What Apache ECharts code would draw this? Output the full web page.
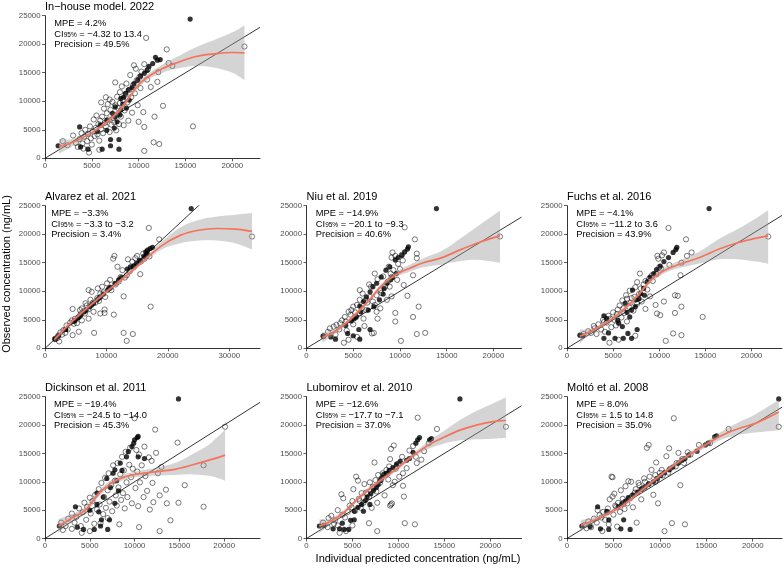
<!DOCTYPE html>
<html><head><meta charset="utf-8">
<script src="https://cdn.jsdelivr.net/npm/echarts@6/dist/echarts.min.js"></script>
<style>html,body{margin:0;padding:0;background:#fff}#c{width:784px;height:570px}</style>
</head><body><div id="c"></div><script>
// ---------------- DATA ----------------
const panelTitles = ['In\u2212house model. 2022','Alvarez et al. 2021','Niu et al. 2019','Fuchs et al. 2016','Dickinson et al. 2011','Lubomirov et al. 2010','Molt\u00f3 et al. 2008'];
const mpeText = ['4.2%','\u22123.3%','\u221214.9%','\u22124.1%','\u221219.4%','\u221212.6%','8.0%'];
const ciText = ['\u22124.32 to 13.4','\u22123.3 to \u22123.2','\u221220.1 to \u22129.3','\u221211.2 to 3.6','\u221224.5 to \u221214.0','\u221217.7 to \u22127.1','1.5 to 14.8'];
const precisionText = ['49.5%','3.4%','40.6%','43.9%','45.3%','37.0%','35.0%'];
const xMaxes = [22960, 35000, 23000, 23300, 24000, 23400, 23150];
const xTickLabels = [[0,5000,10000,15000,20000],[0,10000,20000,30000],[0,5000,10000,15000,20000],[0,5000,10000,15000,20000],[0,5000,10000,15000,20000],[0,5000,10000,15000,20000],[0,5000,10000,15000,20000]];
const yTickLabels = [0,5000,10000,15000,20000,25000];
const xTitle = 'Individual predicted concentration (ng/mL)';
const yTitle = 'Observed concentration (ng/mL)';

const open1 = [[1900,3000],[2400,2300],[3000,4000],[3300,2700],[3500,2000],[3700,3400],[3900,4400],[4000,2600],[4100,1700],[4200,3800],[4300,5000],[4500,3000],[4600,4300],[4700,1000],[4800,5600],[4900,3500],[5000,2400],[5100,4700],[5200,6800],[5300,3900],[5400,5300],[5500,7500],[5600,4200],[5700,6000],[5800,1500],[5800,3100],[5900,6600],[6000,9800],[6000,5100],[6100,7300],[6200,4400],[6300,8700],[6400,6200],[6500,10700],[6500,5600],[6600,7900],[6700,9500],[6800,6800],[6900,4600],[6900,10300],[7000,8500],[7100,5900],[7200,9900],[7300,7100],[7400,6300],[7500,13300],[7500,9300],[7600,4900],[7700,7700],[7700,10800],[7800,8800],[7900,6000],[8000,11600],[8000,9700],[8100,7300],[8200,12600],[8300,10200],[8400,5800],[8500,8400],[8600,11200],[8700,13100],[8800,9800],[8900,6600],[9000,12000],[9100,14600],[9200,10700],[9300,8000],[9400,12800],[9500,16300],[9600,11400],[9700,15700],[9800,13700],[9900,9300],[10000,6400],[10100,14300],[10200,12300],[10300,15200],[10500,8100],[10600,5500],[10600,16500],[10800,21100],[10900,13800],[11000,15600],[11300,12500],[10600,1300],[11600,2800],[11700,7300],[12000,13400],[12100,15100],[12200,2500],[12600,9200],[13000,19100],[13200,16700],[13600,16200],[15800,5600],[21300,19600]];
const filled1 = [[1400,2200],[3700,5500],[3800,2000],[4600,1600],[6100,1600],[7000,3300],[7000,2200],[7900,1600],[7900,3300],[5600,4700],[5900,5800],[6600,4900],[6600,6700],[7200,7900],[7400,5300],[7500,7300],[7700,6400],[7500,9000],[8000,7600],[8100,8500],[8300,9500],[8100,10500],[8400,10700],[8600,11400],[8700,8800],[8900,12000],[9000,10200],[9300,12400],[9500,13100],[9900,13700],[10200,14400],[10600,14900],[10900,15400],[11100,16100],[11500,16600],[11800,17700],[12000,17200],[12300,17300],[15500,24400]];
const fitX1 = [1500,2500,3500,5000,6500,8000,9000,10000,11000,12500,14000,16000,18000,20000,21300];
const fitY1 = [2100,2500,3200,4500,6200,8500,10700,12900,14300,15700,16700,17800,18300,18550,18500];
const fitLo1 = [800,1700,2700,4100,5800,8000,10200,12400,13800,15000,15700,16200,15900,15000,13700];
const fitHi1 = [3400,3300,3700,4900,6600,9000,11200,13400,14800,16400,17700,19400,20700,22100,23300];

const open2 = [[2300,1200],[2500,2800],[3000,3200],[3300,2700],[3500,4000],[4100,4500],[4400,4900],[4500,2300],[4500,6900],[4900,5200],[5200,4400],[5500,2900],[5500,5500],[5700,6700],[6000,7000],[6000,4900],[6500,6100],[6600,7900],[7000,6800],[7100,5200],[7100,10200],[7400,8500],[7600,9900],[7900,6400],[8000,2700],[8200,8000],[8500,8800],[8600,10500],[9000,9600],[9000,6100],[9300,10800],[9700,6800],[9700,6200],[9800,9000],[10100,11400],[10600,12000],[10800,10200],[11200,5900],[11100,15700],[11300,16200],[11800,14300],[12300,12500],[12600,13700],[12800,9100],[12800,2700],[13300,1300],[13300,12800],[13500,15600],[14200,15200],[14300,2500],[14700,15800],[15000,16200],[15500,13000],[16000,16600],[16500,16300],[16900,21100],[17200,7300],[18600,19100],[33700,19600],[3700,3300],[5800,6000],[6300,6500],[8800,8300],[10400,10500],[12000,11700],[13800,13500],[15600,15200],[2000,1800],[2800,2400],[4700,4300],[6800,7500],[7800,8000],[9500,9800],[11500,11200],[13000,12400],[14500,14300],[16200,15700],[17000,16100]];
const filled2 = [[2200,2200],[5500,5500],[2000,2050],[1700,1600],[1600,1700],[3300,3300],[2200,2300],[1650,1600],[3400,3300],[4700,4700],[5800,5800],[4900,4900],[6700,6700],[7900,7900],[5300,5300],[7300,7300],[6400,6400],[9000,9000],[7600,7600],[8500,8500],[9500,9500],[10500,10500],[10700,10700],[11400,11400],[8800,8800],[12000,12000],[10200,10200],[12400,12400],[13400,13900],[13900,14300],[14400,14400],[14900,14900],[15400,15400],[16100,16100],[16600,16600],[16400,16900],[16700,17200],[17100,17500],[17500,17700],[23800,24500]];
const fitX2 = [1500,4000,7000,10000,13000,16000,19000,22000,25000,28000,31000,33700];
const fitY2 = [1500,4300,7200,9900,12500,15300,18000,19800,20700,21000,20900,20500];
const fitLo2 = [800,3900,6800,9500,12100,14900,17300,18400,18900,18900,18400,17300];
const fitHi2 = [2200,4700,7600,10300,12900,15700,18700,21200,22500,23100,23400,23700];

const open3 = [[1800,2100],[2300,2900],[2500,3500],[2900,3800],[3100,2400],[3200,4100],[3600,4400],[3800,4900],[4000,980],[4100,5500],[4300,3100],[4500,1500],[4500,6400],[4800,6700],[5000,7300],[5000,4200],[5300,5500],[5400,7600],[5700,6100],[5700,8500],[5700,10200],[6000,9600],[6100,5200],[6300,8400],[6400,6700],[6800,9000],[6900,10800],[7000,2600],[7200,2700],[7300,7600],[7300,13100],[7500,6400],[7500,9300],[7600,5200],[7600,12100],[7900,10200],[7900,7000],[8400,10800],[8600,8500],[8700,11700],[8900,10800],[9000,13100],[9100,9100],[9100,12500],[9100,15900],[9200,16800],[9300,13700],[9500,16200],[9500,6200],[9500,4700],[9800,14800],[10100,1300],[10200,16400],[10300,15400],[10500,21200],[10800,9200],[11400,12800],[11400,5500],[11600,19100],[11800,16600],[11800,15800],[11800,2500],[12000,7300],[12700,2700],[20700,19600],[3500,3300],[4200,4700],[4700,5900],[5200,6300],[5900,7000],[6500,8000],[6700,11200],[7100,8200],[8000,9700],[8200,12600],[8800,14300],[9700,12000],[10000,13900],[10400,11100],[6200,3900],[5400,2000]];
const filled3 = [[1800,2200],[3100,1600],[4400,2600],[5700,1600],[5600,3300],[5000,2200],[4800,4800],[5300,5500],[5800,6400],[5700,7400],[6100,8200],[6400,9000],[6800,9900],[7100,10800],[7500,11400],[7200,7300],[7800,8500],[8000,12500],[8200,9500],[8300,10500],[8500,13700],[8600,11400],[8900,14300],[9000,12000],[9200,12400],[9500,15500],[9600,13100],[9800,15900],[10200,16300],[10500,16900],[10800,17400],[10900,17800],[6600,6700],[5100,5200],[13900,24500],[2600,2000],[6800,3300],[4200,4000]];
const fitX3 = [1700,3000,4500,6000,7000,8000,9000,10000,11000,12500,14500,16500,18500,20700];
const fitY3 = [1900,2900,4800,7200,9000,10900,12300,13300,14000,15000,15900,17300,18600,19700];
const fitLo3 = [1000,2400,4400,6800,8600,10500,11900,12800,13400,14200,14700,15300,15500,15000];
const fitHi3 = [2800,3400,5200,7600,9400,11300,12700,13800,14600,15800,17100,19300,21600,24100];

const open4 = [[1800,2500],[2300,3000],[2600,2700],[2900,3900],[3200,2500],[3400,4200],[3700,3300],[3900,5000],[4100,2900],[4300,4500],[4600,980],[4500,5700],[4800,3700],[5000,6300],[5100,5000],[5300,4000],[5600,1500],[5500,6800],[5700,7500],[5900,5400],[6000,8400],[6200,6200],[6400,9300],[6500,4700],[6700,7300],[6800,10100],[7000,8800],[7200,6600],[7400,2200],[7400,10700],[7600,7800],[7900,13100],[7800,9500],[8100,8200],[8300,11200],[8500,6900],[8700,10300],[8900,12200],[9000,9100],[9300,11800],[9600,7600],[9700,13000],[9750,6100],[9800,16200],[9900,15700],[10100,5800],[10200,14000],[10300,16300],[10500,8200],[10500,16800],[10700,1300],[11000,21100],[11100,14600],[11500,2600],[11700,9300],[11700,6200],[12000,9200],[12300,12800],[12400,2300],[12400,7300],[12400,15000],[12900,19100],[13000,16200],[13500,16800],[14700,5500],[21800,19600],[3000,3500],[4000,4600],[4700,5200],[5400,6000],[6100,7000],[6900,8000],[7300,9000],[8000,10500],[8500,11800],[9200,12800],[10000,14200],[6500,8700],[7600,11600]];
const filled4 = [[1400,2300],[1700,2200],[4000,1750],[5200,1750],[6100,1750],[7000,1750],[4500,2700],[4000,5700],[4300,5200],[5600,4400],[6000,3800],[6300,7900],[7000,6700],[6800,5500],[7400,7300],[7800,8700],[8000,9600],[8300,10500],[8700,11700],[9000,12500],[9400,13100],[9700,13800],[10100,14400],[10500,15200],[11000,15900],[11500,16800],[11800,17300],[11900,17700],[7100,10200],[7500,8500],[6500,6300],[8400,9300],[15400,24500],[6600,2600],[7600,3300],[5500,4900]];
const fitX4 = [1400,2500,4000,5500,7000,8000,9000,10000,11000,12500,14500,16500,18500,20500,21800];
const fitY4 = [2100,2900,4200,5900,8100,9900,11800,13100,14000,14900,16000,17400,18500,19300,19700];
const fitLo4 = [900,2400,3800,5500,7700,9500,11400,12600,13500,14200,14900,15600,15600,15200,14800];
const fitHi4 = [3300,3400,4600,6300,8500,10300,12200,13600,14500,15600,17100,19200,20900,22800,24200];

const open5 = [[1800,2800],[2300,2200],[2600,3500],[3000,4400],[3300,2800],[3500,3800],[3800,5300],[4000,2200],[4200,4600],[4400,6300],[4600,3300],[4700,5600],[5000,7200],[5100,4400],[5300,6600],[5500,2600],[5600,7700],[5800,5100],[6000,8700],[6100,6000],[6300,9800],[6500,4300],[6600,7300],[6700,10700],[6800,5400],[7000,8500],[7100,11500],[7200,6500],[7400,9400],[7500,4800],[7600,12900],[7800,10200],[7900,7600],[8000,5800],[8100,13300],[8200,9000],[8400,11300],[8500,6800],[8600,14400],[8700,8000],[8800,12000],[8900,5300],[9000,15300],[9100,9900],[9200,7300],[9400,13000],[9500,16000],[9600,10800],[9700,6200],[9800,12300],[10000,21200],[10100,8900],[10200,15600],[10300,11800],[10400,5700],[10500,14800],[10600,9900],[10800,12900],[11000,7300],[11100,16200],[11200,11000],[11400,8400],[11600,14300],[11700,5100],[11900,13700],[12000,9800],[12100,6400],[12300,19200],[12400,15100],[12600,11500],[12800,7600],[13000,12600],[13500,8600],[13600,6200],[14000,3200],[14800,16900],[14900,6300],[15600,9400],[17700,12900],[17700,5600],[20100,19700],[2000,1500],[3000,1700],[4100,1000],[5000,1300],[6200,2700],[7000,3600],[8300,2500],[10500,2000],[12800,1300]];
const filled5 = [[1600,2200],[3400,5600],[3600,2000],[4300,1600],[5500,1600],[6300,3300],[6200,2200],[7000,1600],[7200,3300],[5800,6000],[5800,8000],[6900,10600],[7600,11500],[7800,12100],[8400,13300],[9100,14400],[9300,15300],[9700,16200],[9900,16800],[10000,17400],[10300,17800],[10400,18000],[10400,14400],[11100,14100],[8200,8400],[7800,6200],[6500,7300],[7300,9000],[8000,10200],[8600,12000],[14900,24600],[6000,4700],[5000,5000]];
const fitX5 = [1500,3000,4500,6000,7500,9000,10500,12500,14500,16500,18500,20100];
const fitY5 = [2200,3600,5000,7900,9900,10900,11400,11800,12200,13000,13900,14700];
const fitLo5 = [1000,2900,4400,7400,9400,10400,10900,11100,11200,11300,11000,10200];
const fitHi5 = [3400,4300,5600,8400,10400,11400,11900,12500,13300,14900,16800,19200];

const open6 = [[1800,2800],[2400,3600],[2700,4000],[3000,2600],[3400,2300],[3400,5000],[3600,1000],[3800,7800],[4000,7100],[4200,3700],[4300,1300],[4500,4700],[4700,5800],[5000,2300],[5000,6600],[5100,8700],[5300,4900],[5400,10900],[5600,10200],[5700,7000],[5900,5400],[6000,8000],[6200,6300],[6300,9600],[6500,8100],[6800,7300],[6800,2700],[6900,9900],[7100,5400],[7200,9100],[7400,13400],[7500,10300],[7600,8300],[7700,6300],[7700,1300],[7800,11200],[8000,9800],[8300,11500],[8500,7600],[8700,12100],[8900,10400],[9000,12700],[9100,5800],[9100,14000],[9200,6000],[9200,15800],[9300,6200],[9400,9400],[9500,16400],[9600,10000],[9800,12700],[10000,13200],[10100,10900],[10400,14400],[10500,11500],[10500,9300],[10600,7400],[10700,2700],[10900,12400],[11200,15500],[11600,16300],[11800,2500],[11900,14400],[12000,13300],[12100,21300],[12500,13900],[12800,15400],[13300,16800],[14200,19300],[21700,19700],[2300,2000],[3100,3200],[3900,4200],[4900,5500],[5800,6600],[6600,7800],[7300,8900],[8100,10300],[8800,11400],[9700,12300]];
const filled6 = [[1400,2200],[1900,2300],[2900,1700],[3600,1700],[4100,1600],[4600,1600],[4800,3200],[5200,3300],[3900,2700],[5600,5500],[5200,4800],[6000,6000],[6400,6700],[6600,7300],[7000,7900],[7300,8500],[7600,9000],[7800,9500],[8000,10200],[8200,10700],[8400,11300],[8700,11500],[9000,12000],[9400,12500],[9800,13100],[10200,13600],[10900,13800],[11200,14100],[11600,15200],[11900,16800],[12100,17400],[12300,17800],[13400,17400],[13600,17600],[16700,24600],[6200,4800],[6900,6000]];
const fitX6 = [1400,2500,4000,5800,7600,9400,11200,13000,14900,16700,18500,20300,21700];
const fitY6 = [2200,2900,4500,7300,9700,11800,14100,16200,17800,19100,20000,20600,20800];
const fitLo6 = [1000,2300,4100,6900,9300,11400,13700,15600,16700,17300,17500,17600,17700];
const fitHi6 = [3400,3500,4900,7700,10100,12200,14500,16800,18900,20900,22500,23800,24900];

const open7 = [[1900,2400],[2300,3000],[2600,2000],[2900,3500],[3200,2800],[3300,5000],[3500,4100],[3800,1300],[3900,4700],[4100,3300],[4400,5300],[4500,2500],[4600,6900],[4800,10900],[4900,10800],[4900,7400],[5000,4200],[5100,7900],[5200,5800],[5400,2100],[5500,6300],[5700,4700],[5800,8500],[6000,7000],[6200,5200],[6300,9200],[6500,6200],[6600,10100],[6900,10000],[7000,7500],[7100,5500],[7400,8700],[7500,2800],[7700,9800],[7800,9400],[8000,6900],[8300,10600],[8400,10000],[8600,16000],[8800,16500],[8900,10900],[9100,12100],[9300,7700],[9500,10000],[9500,11200],[9600,13400],[9800,6200],[10000,11600],[10200,12100],[10500,1300],[10700,14500],[10900,11600],[11000,15900],[11300,2700],[11500,21200],[11800,13300],[12000,15100],[12200,9400],[12400,14000],[12700,2500],[13000,15200],[13300,14800],[14200,16500],[15400,16800],[17400,19300],[22800,19700],[2100,1800],[3700,3700],[4300,4600],[5300,5600],[6100,6300],[6800,7100],[7300,8100],[8100,8800],[8800,9600],[9700,10400],[10300,11100],[11100,12300],[11700,12700],[12600,13300]];
const filled7 = [[1600,2200],[2500,2100],[3600,1700],[4500,1600],[5800,1700],[6800,1600],[4500,3300],[6100,3300],[3300,5600],[4300,4800],[5500,5600],[5900,6100],[6300,6600],[6600,7200],[7100,7700],[7600,8200],[8000,8700],[8400,9100],[8800,9600],[9300,10000],[9700,10600],[10100,11100],[10500,11600],[11000,12100],[11400,12600],[12000,13300],[12400,13800],[12700,14100],[13100,14700],[14000,15400],[14900,16500],[15200,16800],[15900,17900],[16100,18100],[22800,24600]];
const fitX7 = [1500,3000,4500,6000,7600,9400,11300,13100,14900,16700,18500,20300,22800];
const fitY7 = [2300,3300,4500,5800,7900,10300,12700,14700,16500,18200,19400,20300,22300];
const fitLo7 = [1300,2800,4100,5400,7500,9900,12300,14300,16000,17500,18300,18700,19100];
const fitHi7 = [3300,3800,4900,6200,8300,10700,13100,15100,17000,18900,20500,21900,24400];

// ---------------- LAYOUT ----------------
const FONT = '"Liberation Sans", Arial, Helvetica, sans-serif';
const gridPos = [[45,15.7],[45,205.7],[306.5,205.7],[567,205.7],[45,396.7],[306.5,396.7],[567,396.7]];
const gridH = [142.6,142.6,142.6,142.6,141.8,141.8,141.8];
const gridW = 215;

const opens = [open1,open2,open3,open4,open5,open6,open7];
const filleds = [filled1,filled2,filled3,filled4,filled5,filled6,filled7];
const fitXs = [fitX1,fitX2,fitX3,fitX4,fitX5,fitX6,fitX7];
const fitYs = [fitY1,fitY2,fitY3,fitY4,fitY5,fitY6,fitY7];
const fitLos = [fitLo1,fitLo2,fitLo3,fitLo4,fitLo5,fitLo6,fitLo7];
const fitHis = [fitHi1,fitHi2,fitHi3,fitHi4,fitHi5,fitHi6,fitHi7];

// smooth SVG path through pixel points (Catmull-Rom -> cubic Bezier), drawing only
function smoothSeg(pts, startCmd) {
  let d = startCmd + pts[0][0] + ' ' + pts[0][1];
  for (let k = 0; k < pts.length - 1; k++) {
    const p0 = pts[Math.max(k - 1, 0)], p1 = pts[k], p2 = pts[k + 1], p3 = pts[Math.min(k + 2, pts.length - 1)];
    const c1x = p1[0] + (p2[0] - p0[0]) / 6, c1y = p1[1] + (p2[1] - p0[1]) / 6;
    const c2x = p2[0] - (p3[0] - p1[0]) / 6, c2y = p2[1] - (p3[1] - p1[1]) / 6;
    d += ' C' + c1x + ' ' + c1y + ' ' + c2x + ' ' + c2y + ' ' + p2[0] + ' ' + p2[1];
  }
  return d;
}

const plain = v => String(v);
const grid = [], xAxis = [], yAxis = [], series = [], title = [];
for (let i = 0; i < 7; i++) {
  const [L, T] = gridPos[i];
  const ticks = xTickLabels[i];
  grid.push({left: L, top: T, width: gridW, height: gridH[i], containLabel: false});
  xAxis.push({
    type: 'value', gridIndex: i, min: 0, max: xMaxes[i], interval: ticks[1] - ticks[0],
    axisLine: {show: true, onZero: false, lineStyle: {color: '#000', width: 0.8}},
    axisTick: {show: true, length: 3, lineStyle: {color: '#333', width: 0.8}, customValues: ticks},
    axisLabel: {show: true, customValues: ticks, fontSize: 7.8, color: '#4D4D4D', margin: 3.5, fontFamily: FONT,
      formatter: v => (ticks.indexOf(v) >= 0 ? String(v) : '')},
    splitLine: {show: false}
  });
  yAxis.push({
    type: 'value', gridIndex: i, min: 0, max: 25000, interval: 5000,
    axisLine: {show: true, onZero: false, lineStyle: {color: '#000', width: 0.8}},
    axisTick: {show: true, length: 3, lineStyle: {color: '#333', width: 0.8}, customValues: yTickLabels},
    axisLabel: {show: true, customValues: yTickLabels, fontSize: 7.8, color: '#4D4D4D', margin: 4.5, fontFamily: FONT, formatter: plain},
    splitLine: {show: false}
  });
  series.push({
    type: 'scatter', xAxisIndex: i, yAxisIndex: i, data: opens[i], symbol: 'circle', symbolSize: 5.2,
    itemStyle: {color: 'rgba(0,0,0,0)', borderColor: '#000', borderWidth: 0.65}, silent: true, z: 2
  });
  series.push({
    type: 'scatter', xAxisIndex: i, yAxisIndex: i, data: filleds[i], symbol: 'circle', symbolSize: 5.2,
    itemStyle: {color: '#000'}, silent: true, z: 2
  });
  const m = xMaxes[i];
  series.push({
    type: 'line', xAxisIndex: i, yAxisIndex: i, data: [[0, 0], [m, m]], showSymbol: false, clip: true,
    lineStyle: {color: '#000', width: 0.8}, silent: true, z: 3
  });
  const fx = fitXs[i], lo = fitLos[i], hi = fitHis[i];
  series.push({
    type: 'custom', xAxisIndex: i, yAxisIndex: i, data: [[fx[0], lo[0]]], silent: true, z: 4,
    renderItem: (params, api) => {
      const up = fx.map((x, k) => api.coord([x, hi[k]]));
      const dn = fx.map((x, k) => api.coord([x, lo[k]])).reverse();
      const d = smoothSeg(up, 'M') + ' ' + smoothSeg(dn, 'L') + ' Z';
      return {type: 'path', shape: {pathData: d}, style: {fill: 'rgba(153,153,153,0.42)', stroke: null}};
    }
  });
  series.push({
    type: 'line', xAxisIndex: i, yAxisIndex: i, data: fx.map((x, k) => [x, fitYs[i][k]]), showSymbol: false,
    smooth: 0.35, lineStyle: {color: '#F5735A', width: 1.7}, silent: true, z: 5
  });
  title.push({
    text: panelTitles[i], left: L, top: T - 14, padding: 0,
    textStyle: {fontSize: 11, fontWeight: 'normal', color: '#000', fontFamily: FONT}
  });
  const annLeft = L + 1000 / xMaxes[i] * gridW;
  title.push({
    text: '{t|MPE = ' + mpeText[i] + '}\n{t|CI}{s|95%}{t| = ' + ciText[i] + '}\n{t|Precision = ' + precisionText[i] + '}',
    left: annLeft, top: T + 2.5, padding: 0,
    textStyle: {fontSize: 9.3, lineHeight: 10.5, fontWeight: 'normal', color: '#000', fontFamily: FONT,
      rich: {
        t: {fontSize: 9.3, lineHeight: 10.5, color: '#000', fontFamily: FONT},
        s: {fontSize: 6.5, lineHeight: 4, verticalAlign: 'bottom', color: '#000', fontFamily: FONT}
      }}
  });
}

const chart = echarts.init(document.getElementById('c'), null, {renderer: 'canvas'});
chart.setOption({
  animation: false,
  backgroundColor: '#fff',
  title, grid, xAxis, yAxis, series,
  graphic: [
    {type: 'text', x: 418, y: 558.5, silent: true,
      style: {text: xTitle, fontSize: 11, fontFamily: FONT, fill: '#000', align: 'center', verticalAlign: 'middle', textAlign: 'center', textVerticalAlign: 'middle'}},
    {type: 'text', x: 6.5, y: 274, rotation: Math.PI / 2, silent: true,
      style: {text: yTitle, fontSize: 11, fontFamily: FONT, fill: '#000', align: 'center', verticalAlign: 'middle', textAlign: 'center', textVerticalAlign: 'middle'}}
  ]
});
</script></body></html>
